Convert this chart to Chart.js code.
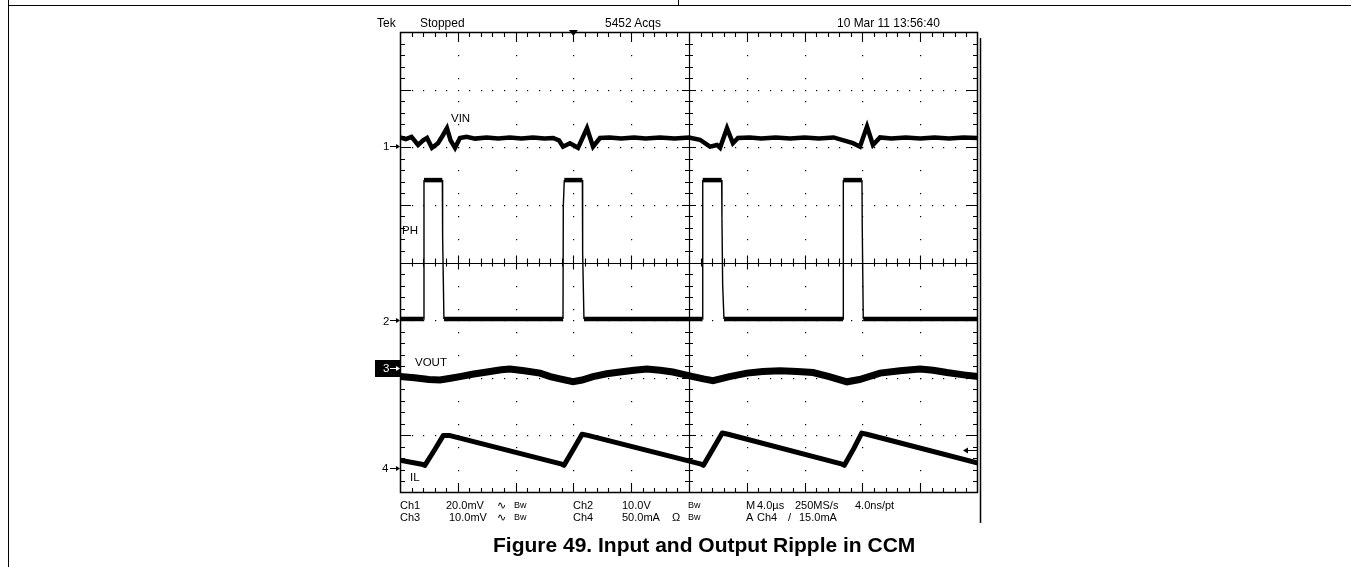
<!DOCTYPE html>
<html>
<head>
<meta charset="utf-8">
<script src="https://cdn.jsdelivr.net/npm/chart.js@4/dist/chart.umd.min.js"></script>
<style>
  html, body { margin:0; padding:0; background:#fff; }
  #wrap { position:relative; width:1351px; height:567px; overflow:hidden; }
  #wrap canvas { position:absolute; left:0; top:0; }
  .t { position:absolute; font-family:"Liberation Sans", Arial, sans-serif; font-size:11px; line-height:11px; color:#000; white-space:nowrap; }
  .h { font-size:13px; line-height:13px; transform:scaleX(0.92); transform-origin:left center; }
  .lab { font-size:11.5px; line-height:11.5px; }
  .bw { font-size:9px; line-height:9px; }
  .cap { position:absolute; font-family:"Liberation Sans", Arial, sans-serif; font-weight:bold; font-size:21px; line-height:21px; white-space:nowrap; color:#000; }
  .ln { position:absolute; background:#000; }
</style>
</head>
<body>
<div id="wrap">
  <canvas id="c" width="1351" height="567"></canvas>

  <div class="ln" style="left:0;top:4.5px;width:1351px;height:1.4px;left:8px;"></div>
  <div class="ln" style="left:7.5px;top:0;width:1.4px;height:567px;"></div>
  <div class="ln" style="left:678px;top:0;width:1.4px;height:5px;"></div>

  <div class="t h" style="left:377px;top:16px;">Tek</div>
  <div class="t h" style="left:420px;top:16px;">Stopped</div>
  <div class="t h" style="left:605px;top:16px;">5452 Acqs</div>
  <div class="t h" style="left:837px;top:16px;">10 Mar 11 13:56:40</div>

  <div class="t lab" style="left:451px;top:113px;">VIN</div>
  <div class="t lab" style="left:402px;top:224.5px;">PH</div>
  <div class="t lab" style="left:415px;top:357px;">VOUT</div>
  <div class="t lab" style="left:410px;top:471.5px;">IL</div>

  <div class="t lab" style="left:383px;top:141px;">1</div>
  <div class="t lab" style="left:383px;top:316px;">2</div>
  <div class="t lab" style="left:383px;top:362.5px;color:#fff;">3</div>
  <div class="t lab" style="left:382px;top:462.5px;">4</div>

  <div class="t" style="left:400px;top:499.5px;">Ch1</div>
  <div class="t" style="left:446px;top:499.5px;">20.0mV</div>
  <div class="t" style="left:497px;top:499.5px;">∿</div>
  <div class="t bw" style="left:514px;top:500.5px;">Bw</div>
  <div class="t" style="left:573px;top:499.5px;">Ch2</div>
  <div class="t" style="left:622px;top:499.5px;">10.0V</div>
  <div class="t bw" style="left:688px;top:500.5px;">Bw</div>
  <div class="t" style="left:746px;top:499.5px;">M</div>
  <div class="t" style="left:757px;top:499.5px;">4.0µs</div>
  <div class="t" style="left:795px;top:499.5px;">250MS/s</div>
  <div class="t" style="left:855px;top:499.5px;">4.0ns/pt</div>

  <div class="t" style="left:400px;top:512px;">Ch3</div>
  <div class="t" style="left:449px;top:512px;">10.0mV</div>
  <div class="t" style="left:497px;top:512px;">∿</div>
  <div class="t bw" style="left:514px;top:513px;">Bw</div>
  <div class="t" style="left:573px;top:512px;">Ch4</div>
  <div class="t" style="left:622px;top:512px;">50.0mA</div>
  <div class="t" style="left:672px;top:512px;">Ω</div>
  <div class="t bw" style="left:688px;top:513px;">Bw</div>
  <div class="t" style="left:746px;top:512px;">A</div>
  <div class="t" style="left:757px;top:512px;">Ch4</div>
  <div class="t" style="left:788px;top:512px;">/</div>
  <div class="t" style="left:799px;top:512px;">15.0mA</div>

  <div class="cap" style="left:493px;top:534px;">Figure 49. Input and Output Ripple in CCM</div>
</div>

<script>
// ---- Data (time in µs, amplitude in screen divisions) ----
const xMajorUs = [0, 4, 8, 12, 16, 20, 24, 28, 32, 36, 40];
const yMajorDiv = [-4, -3, -2, -1, 0, 1, 2, 3, 4];

const vinT = [0, 0.4, 0.8, 1.25, 1.6, 1.87, 2.21, 2.63, 2.95, 3.25, 3.5, 3.81, 4.15, 4.6, 5.2, 6.0, 6.8, 7.6, 8.4, 9.2, 10.0, 10.6, 11.0, 11.28, 11.76, 12.32, 12.94, 13.36, 13.84, 14.5, 15.3, 16.2, 17.0, 18.0, 19.0, 20.0, 20.76, 21.45, 21.94, 22.15, 22.63, 23.04, 23.39, 24.2, 25.0, 26.0, 27.0, 28.0, 29.0, 30.0, 30.7, 31.35, 31.83, 32.32, 32.73, 33.22, 34.0, 35.0, 36.0, 37.0, 38.0, 39.0, 40];
const vinV = [2.17, 2.14, 2.18, 2.04, 2.12, 2.16, 1.99, 2.07, 2.2, 2.33, 2.12, 1.99, 2.16, 2.18, 2.15, 2.17, 2.15, 2.17, 2.15, 2.17, 2.15, 2.16, 2.12, 2.01, 2.07, 1.99, 2.33, 2.01, 2.16, 2.17, 2.15, 2.17, 2.15, 2.17, 2.15, 2.17, 2.13, 2.01, 2.04, 1.99, 2.33, 2.07, 2.16, 2.17, 2.15, 2.17, 2.15, 2.17, 2.15, 2.17, 2.12, 2.07, 2.01, 2.36, 2.04, 2.17, 2.15, 2.17, 2.15, 2.17, 2.15, 2.17, 2.16];

const phT = [0, 1.64, 1.66, 2.93, 2.95, 3.04, 11.28, 11.30, 11.37, 12.62, 12.64, 12.73, 20.93, 20.95, 22.26, 22.28, 22.33, 22.42, 30.66, 30.68, 31.97, 31.99, 32.06, 40];
const phV = [-0.98, -0.98, 1.43, 1.43, 0.45, -0.98, -0.98, 0.97, 1.43, 1.43, 0.16, -0.98, -0.98, 1.43, 1.43, 0.77, -0.39, -0.98, -0.98, 1.43, 1.43, 0.6, -0.98, -0.98];

const voutT = [0, 1.0, 2.0, 2.77, 3.5, 4.15, 5.0, 6.02, 7.0, 7.61, 8.6, 9.69, 10.4, 11.07, 11.97, 12.6, 13.36, 14.3, 15.22, 16.2, 17.09, 18.0, 18.89, 19.6, 20.28, 21.0, 21.66, 22.8, 24.01, 25.1, 26.3, 27.5, 28.58, 29.7, 30.93, 31.8, 33.22, 34.6, 35.99, 36.9, 37.85, 39.0, 40];
const voutV = [-1.98, -2.0, -2.03, -2.04, -2.01, -1.98, -1.94, -1.9, -1.86, -1.85, -1.88, -1.92, -1.98, -2.02, -2.07, -2.04, -1.98, -1.93, -1.9, -1.87, -1.85, -1.87, -1.9, -1.94, -1.98, -2.02, -2.05, -1.98, -1.92, -1.89, -1.88, -1.89, -1.91, -1.98, -2.07, -2.03, -1.92, -1.88, -1.85, -1.87, -1.91, -1.95, -1.98];

const ilT = [0, 1.5, 1.72, 2.4, 3.0, 3.4, 11.2, 11.35, 12.0, 12.6, 13.0, 20.85, 21.0, 21.7, 22.3, 22.7, 30.6, 30.75, 31.4, 31.95, 32.3, 40];
const ilV = [-3.43, -3.5, -3.52, -3.25, -3.0, -3.0, -3.5, -3.52, -3.24, -2.98, -3.0, -3.5, -3.52, -3.22, -2.96, -2.98, -3.5, -3.52, -3.23, -2.96, -2.98, -3.48];

// channel ground markers (div), trigger position (µs) and trigger level (div)
const chMarkerDiv = [2.02, -1.0, -1.83, -3.56];
const triggerPosUs = 12;
const triggerLevelDiv = -3.26;

function pts(t, v) { return t.map((x, i) => ({ x: x, y: v[i] })); }

const graticule = {
  id: 'graticule',
  beforeDatasetsDraw(chart) {
    const ctx = chart.ctx, xs = chart.scales.x, ys = chart.scales.y, a = chart.chartArea;
    const X = v => xs.getPixelForValue(v), Y = v => ys.getPixelForValue(v);
    const xStep = (xMajorUs[1] - xMajorUs[0]) / 5;
    const yStep = (yMajorDiv[1] - yMajorDiv[0]) / 5;
    const xMin = xMajorUs[0], xMax = xMajorUs[xMajorUs.length - 1];
    const yMin = yMajorDiv[0], yMax = yMajorDiv[yMajorDiv.length - 1];
    const xc = X((xMin + xMax) / 2), yc = Y((yMin + yMax) / 2);
    ctx.save();
    ctx.fillStyle = '#000';
    // horizontal dotted lines
    yMajorDiv.slice(1, -1).forEach(yv => {
      if (yv === 0) return;
      const yp = Math.round(Y(yv));
      for (let k = 1; k < 50; k++) {
        const xv = xMin + k * xStep;
        ctx.fillRect(Math.round(X(xv)), yp, 1.2, 1.2);
      }
    });
    // vertical dotted lines
    xMajorUs.slice(1, -1).forEach(xv => {
      if (xv === 20) return;
      const xp = Math.round(X(xv));
      for (let k = 1; k < 20; k++) {
        const yv = yMin + k * 2 * yStep;
        ctx.fillRect(xp, Math.round(Y(yv)), 1.2, 1.2);
      }
    });
    ctx.strokeStyle = '#000';
    // border
    ctx.lineWidth = 1.5;
    ctx.strokeRect(a.left + 0.5, a.top + 0.5, a.right - a.left - 1, a.bottom - a.top - 1);
    // center cross
    ctx.lineWidth = 1.2;
    ctx.beginPath();
    ctx.moveTo(a.left, Math.round(yc) + 0.5); ctx.lineTo(a.right, Math.round(yc) + 0.5);
    ctx.moveTo(Math.round(xc) + 0.5, a.top); ctx.lineTo(Math.round(xc) + 0.5, a.bottom);
    ctx.stroke();
    // ticks
    ctx.lineWidth = 1.1;
    ctx.beginPath();
    for (let k = 1; k < 50; k++) {
      const xv = xMin + k * xStep;
      const xp = Math.round(X(xv)) + 0.5;
      const major = k % 5 === 0;
      const c = major ? 7 : 4, e = major ? 10 : 5;
      ctx.moveTo(xp, yc - c); ctx.lineTo(xp, yc + c);
      ctx.moveTo(xp, a.top); ctx.lineTo(xp, a.top + e);
      ctx.moveTo(xp, a.bottom); ctx.lineTo(xp, a.bottom - e);
    }
    for (let k = 1; k < 40; k++) {
      const yv = yMin + k * yStep;
      const yp = Math.round(Y(yv)) + 0.5;
      const major = k % 5 === 0;
      const c = major ? 7 : 4, e = major ? 11 : 5;
      ctx.moveTo(xc - c, yp); ctx.lineTo(xc + c, yp);
      ctx.moveTo(a.left, yp); ctx.lineTo(a.left + e, yp);
      ctx.moveTo(a.right, yp); ctx.lineTo(a.right - e, yp);
    }
    ctx.stroke();
    ctx.restore();
  },
  afterDatasetsDraw(chart) {
    const ctx = chart.ctx, xs = chart.scales.x, ys = chart.scales.y, a = chart.chartArea;
    ctx.save();
    // outer right frame line
    ctx.strokeStyle = '#000';
    ctx.lineWidth = 1.5;
    ctx.beginPath();
    ctx.moveTo(a.right + 2.5, a.top + 6); ctx.lineTo(a.right + 2.5, 523);
    ctx.stroke();
    // channel markers
    chMarkerDiv.forEach((d, i) => {
      const y = Math.round(ys.getPixelForValue(d)) + 0.5;
      let col = '#000';
      if (i === 2) {
        ctx.fillStyle = '#000';
        ctx.fillRect(a.left - 25, y - 8.5, 25, 17);
        col = '#fff';
      }
      ctx.strokeStyle = col; ctx.fillStyle = col; ctx.lineWidth = 1;
      ctx.beginPath();
      ctx.moveTo(a.left - 10, y); ctx.lineTo(a.left - 1, y); ctx.stroke();
      ctx.beginPath();
      ctx.moveTo(a.left, y); ctx.lineTo(a.left - 4, y - 2.5); ctx.lineTo(a.left - 4, y + 2.5); ctx.closePath(); ctx.fill();
    });
    // trigger position marker
    const tx = xs.getPixelForValue(triggerPosUs);
    ctx.fillStyle = '#000';
    ctx.beginPath();
    ctx.moveTo(tx - 4.5, a.top - 2); ctx.lineTo(tx + 4.5, a.top - 2); ctx.lineTo(tx, a.top + 4); ctx.closePath(); ctx.fill();
    // trigger level arrow
    const ty = Math.round(ys.getPixelForValue(triggerLevelDiv)) + 0.5;
    ctx.strokeStyle = '#000'; ctx.lineWidth = 1;
    ctx.beginPath(); ctx.moveTo(a.right - 1, ty); ctx.lineTo(a.right - 14, ty); ctx.stroke();
    ctx.beginPath(); ctx.moveTo(a.right - 15, ty); ctx.lineTo(a.right - 10, ty - 3); ctx.lineTo(a.right - 10, ty + 3); ctx.closePath(); ctx.fill();
    ctx.restore();
  }
};

const thinVertical = (thick) => ({
  borderWidth: c => (Math.abs(c.p1.x - c.p0.x) < 2.5 ? 1.4 : thick)
});

new Chart(document.getElementById('c'), {
  type: 'line',
  data: {
    datasets: [
      { label: 'VIN', data: pts(vinT, vinV), borderColor: '#000', borderWidth: 4.5, segment: thinVertical(4.5) },
      { label: 'PH', data: pts(phT, phV), borderColor: '#000', borderWidth: 4.5, segment: thinVertical(4.5) },
      { label: 'VOUT', data: pts(voutT, voutV), borderColor: '#000', borderWidth: 7 },
      { label: 'IL', data: pts(ilT, ilV), borderColor: '#000', borderWidth: 5, borderJoinStyle: 'round' }
    ]
  },
  options: {
    responsive: false,
    animation: false,
    devicePixelRatio: 1,
    layout: { padding: { left: 400, right: 373, top: 32, bottom: 74 } },
    elements: { point: { radius: 0 }, line: { tension: 0 } },
    plugins: { legend: { display: false }, tooltip: { enabled: false }, title: { display: false } },
    scales: {
      x: { type: 'linear', min: xMajorUs[0], max: xMajorUs[xMajorUs.length - 1], display: false },
      y: { type: 'linear', min: yMajorDiv[0], max: yMajorDiv[yMajorDiv.length - 1], display: false }
    }
  },
  plugins: [graticule]
});
</script>
</body>
</html>
